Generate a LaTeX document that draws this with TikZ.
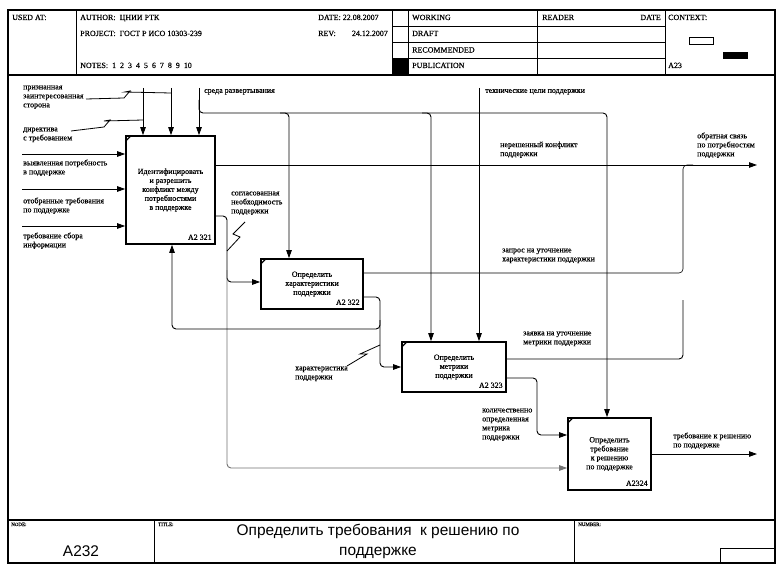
\documentclass[tikz,border=0pt]{standalone}
\usepackage{fontspec}
\setmainfont{Liberation Serif}[FakeBold=0.35]
\newfontfamily\sansf{Liberation Sans}
\usetikzlibrary{arrows.meta}
\begin{document}
\begin{tikzpicture}[x=1bp,y=-1bp,
  frame/.style={line width=1.3bp},
  hline/.style={line width=0.8bp},
  fbox/.style={draw, line width=1.7bp, align=center, inner sep=0pt, font=\fontsize{8}{9}\selectfont},
  arr/.style={line width=0.9bp, rounded corners=4bp, -{Triangle[length=8bp,width=5.5bp]}},
  ln/.style={line width=0.9bp, rounded corners=4bp},
  sq/.style={line width=0.8bp},
  hd/.style={font=\fontsize{8}{9.6}\selectfont, inner sep=0pt, anchor=base west},
  lbl/.style={font=\fontsize{8}{9}\selectfont, inner sep=0pt, align=left, anchor=north west, execute at begin node=\strut},
  num/.style={font=\fontsize{8}{9}\selectfont, inner sep=0pt, anchor=base east},
  tinyl/.style={font=\fontsize{5}{6}\selectfont, inner sep=0pt, anchor=base west},
  corner/.style={line width=1.2bp},
]
\fill[white] (0,0) rectangle (783,574);
\useasboundingbox (0,0) rectangle (783,574);

% frame
\draw[frame] (8,10) rectangle (775,563);
\draw[frame] (8,75) -- (775,75);
\draw[frame] (8,520) -- (775,520);
% header grid
\draw[hline] (76,10) -- (76,75);
\draw[hline] (392,10) -- (392,75);
\draw[hline] (408,10) -- (408,75);
\draw[hline] (537,10) -- (537,75);
\draw[hline] (665,10) -- (665,75);
\foreach \yy in {26,42,58} \draw[hline] (392,\yy) -- (665,\yy);
\fill (392,58) rectangle (408,75);
% context
\draw[hline] (689,37) rectangle (713,44);
\fill (723,52) rectangle (748,59);
% footer grid
\draw[hline] (154,520) -- (154,563);
\draw[hline] (574,520) -- (574,563);
\draw[hline] (720,563) -- (720,548) -- (775,548);

% header texts
\node[hd] (usedat) at (12,20) {USED AT:};
\node[hd] (author) at (80,20) {AUTHOR:\ \ ЦНИИ РТК};
\node[hd] (project) at (80,36) {PROJECT:\ \ ГОСТ Р ИСО 10303-239};
\node[hd] (notes) at (80,68) {NOTES:\ \ 1\ \ 2\ \ 3\ \ 4\ \ 5\ \ 6\ \ 7\ \ 8\ \ 9\ \ 10};
\node[hd] (date) at (318,20) {DATE: 22.08.2007};
\node[hd] (rev) at (318,36) {REV:};
\node[hd, anchor=base east] (revd) at (388,36) {24.12.2007};
\node[hd] (working) at (412,20) {WORKING};
\node[hd] (draft) at (412,36) {DRAFT};
\node[hd] (recom) at (412,52.5) {RECOMMENDED};
\node[hd] (publ) at (412,68) {PUBLICATION};
\node[hd] (reader) at (542,20) {READER};
\node[hd, anchor=base east] (rdate) at (661,20) {DATE};
\node[hd] (context) at (668,20) {CONTEXT:};
\node[hd] (a23) at (668,68) {A23};

% footer texts
\node[tinyl] (nodel) at (11,526) {NODE:};
\node[tinyl] (titlel) at (158,526) {TITLE:};
\node[tinyl] (numberl) at (578,526) {NUMBER:};
\node[font=\sansf\fontsize{15.5}{19.5}\selectfont, anchor=base] (nodeno) at (81,556) {A232};
\node[font=\sansf\fontsize{15.5}{19.5}\selectfont, align=center, anchor=north, inner sep=0pt, execute at begin node=\strut] (title) at (378,524.3) {Определить требования\ \ к решению по\\поддержке};

% boxes
\node[fbox, minimum width=89bp, minimum height=108bp] (b1) at (170.5,190) {Идентифицировать\\и разрешить\\конфликт между\\потребностями\\в поддержке};
\node[fbox, minimum width=102bp, minimum height=50bp] (b2) at (312,284) {Определить\\характеристики\\поддержки};
\node[fbox, minimum width=104bp, minimum height=50bp] (b3) at (454,367) {Определить\\метрики\\поддержки};
\node[fbox, minimum width=83bp, minimum height=72bp] (b4) at (609.5,454) {Определить\\требование\\к решению\\по поддержке};
\foreach \b/\n in {b1/A2 321,b2/A2 322,b3/A2 323,b4/A2324}{
  \node[num] at ([xshift=-4bp,yshift=5bp]\b.south east) {\n};
  \draw[corner] ([xshift=1.5bp,yshift=-5bp]\b.north west) -- ([xshift=5bp,yshift=-1.5bp]\b.north west);
}

% inputs of b1
\coordinate (i1) at (22,154);
\coordinate (i2) at (22,189);
\coordinate (i3) at (22,226);
\draw[arr] (i1) -- (b1.west |- i1);
\draw[arr] (i2) -- (b1.west |- i2);
\draw[arr] (i3) -- (b1.west |- i3);

% controls
\coordinate (c1) at (143,88);
\coordinate (c2) at (171,88);
\coordinate (c3) at (199,88);
\coordinate (c4) at (479,88);
\draw[arr] (c1) -- (b1.north -| c1);
\draw[arr] (c2) -- (b1.north -| c2);
\draw[arr] (c3) -- (b1.north -| c3);
\draw[arr] (c4) -- (b3.north -| c4);
\draw[arr] (199,100) -- (199,113) -- (607,113) -- (b4.north -| 607,0);
\draw[arr] (280,113) -- (289,113) -- (b2.north -| 289,0);
\draw[arr] (422,113) -- (431,113) -- (b3.north -| 431,0);

% outputs
\coordinate (o1) at (757,165);
\coordinate (o4) at (757,454);
\draw[arr] (b1.east |- o1) -- (o1);
\draw[ln, line width=0.6bp] (b2.east |- 0,273) -- (683,273) -- (683,165) -- (693,165);
\draw[ln] (b3.east |- 0,359) -- (683,359) -- (683,300);
\draw[arr] (b4.east |- o4) -- (o4);

% internal links
\draw[arr] (b1.east |- 0,216) -- (227,216) -- (227,282) -- (b2.west |- 0,282);
\draw[arr, black!55] (227,270) -- (227,468) -- (b4.west |- 0,468);
\draw[arr] (b2.east |- 0,297) -- (380,297) -- (380,329) -- (172,329) -- (b1.south -| 172,0);
\draw[arr] (380,320) -- (380,367) -- (b3.west |- 0,367);
\draw[arr] (b3.east |- 0,378) -- (537,378) -- (537,435) -- (b4.west |- 0,435);

% squiggles
\draw[sq] (86,99) -- (124,98) -- (130,91) -- (125,92) -- (c2 |- 0,93);
\draw[sq] (71,131) -- (104,127) -- (110,120) -- (104,121) -- (c1 |- 0,120);
\draw[sq] (245,222) -- (233,234) -- (240,237) -- (227,251);
\draw[sq] (347,366) -- (367,354) -- (360,354) -- (380,345);

% labels
\node[lbl] (l1) at (23,85.4) {признанная\\заинтересованная\\сторона};
\node[lbl] (l2) at (23,127.4) {директива\\с требованием};
\node[lbl] (l3) at (23,159.4) {выявленная потребность\\в поддержке};
\node[lbl] (l4) at (23,197.4) {отобранные требования\\по поддержке};
\node[lbl] (l5) at (23,232.4) {требование сбора\\информации};
\node[lbl] (l6) at (204,86.4) {среда развертывания};
\node[lbl] (l7) at (485,86.4) {технические цели поддержки};
\node[lbl] (l8) at (500,141.4) {нерешенный конфликт\\поддержки};
\node[lbl] (l9) at (697,132.4) {обратная связь\\по потребностям\\поддержки};
\node[lbl] (l10) at (231,191.4) {согласованная\\необходимость\\поддержки};
\node[lbl] (l11) at (502,248.4) {запрос на уточнение\\характеристики поддержки};
\node[lbl] (l12) at (523,331.4) {заявка на уточнение\\метрики поддержки};
\node[lbl] (l13) at (295,366.4) {характеристика\\поддержки};
\node[lbl] (l14) at (482,408.4) {количественно\\определенная\\метрика\\поддержки};
\node[lbl] (l15) at (673,432.4) {требование к решению\\по поддержке};
\end{tikzpicture}
\end{document}
